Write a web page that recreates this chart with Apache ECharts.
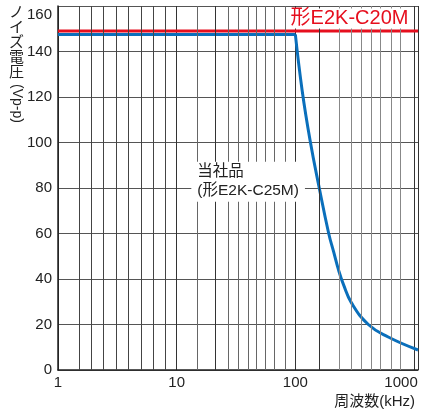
<!DOCTYPE html>
<html>
<head>
<meta charset="utf-8">
<script src="https://cdn.jsdelivr.net/npm/echarts@6/dist/echarts.min.js"></script>
<style>
  html, body { margin: 0; padding: 0; background: #fff; }
  #chart { width: 421px; height: 412px; }
</style>
</head>
<body>
<div id="chart"></div>
<script>
// 周波数(kHz) の目盛
var freqTicks = [1, 10, 100, 1000];
// 補助目盛線 (図から読んだ位置)
var minorFreqs1 = [1.5, 1.9, 2.4, 3.1, 3.9, 5, 6.3, 8];
var minorFreqs10 = [15, 21, 27, 33, 40, 47, 56, 67, 82];
var minorFreqs100 = [160, 235, 295, 360, 435, 520, 640, 770];
// 当社品 (形E2K-C25M)
var c25mFreq = [1, 100, 114, 133, 159, 191, 210, 231, 255, 297, 412, 606, 1080];
var c25mVolt = [147.5, 147.5, 123, 101, 80, 60, 52, 44, 37.4, 29.5, 20, 14.5, 8.8];
// 形E2K-C20M
var c20mFreq = [1, 1080];
var c20mVolt = [149, 149];

var FONT = "'Liberation Sans', 'Noto Sans CJK JP', sans-serif";

function pairs(xs, ys) {
  var out = [];
  xs.forEach(function (x, i) { out.push([x, ys[i]]); });
  return out;
}

function vLines(list, color, darkOnes) {
  return list.map(function (f) {
    var dark = darkOnes && darkOnes.indexOf(f) >= 0;
    return { xAxis: f, lineStyle: { color: dark ? '#333' : color, width: 1, type: 'solid' } };
  });
}

var c25m = pairs(c25mFreq, c25mVolt);
var c20m = pairs(c20mFreq, c20mVolt);

var chart = echarts.init(document.getElementById('chart'), null, { renderer: 'canvas' });

var option = {
  animation: false,
  backgroundColor: '#fff',
  textStyle: { fontFamily: FONT },
  grid: { left: 58, right: 1, top: 6, bottom: 42 },
  xAxis: {
    type: 'log',
    logBase: 10,
    min: 1,
    max: 1080,
    axisLine: { show: true, lineStyle: { color: '#222', width: 1.5 } },
    axisTick: { show: false },
    axisLabel: {
      color: '#222',
      fontSize: 15,
      fontFamily: FONT,
      margin: 5,
      formatter: function (v) {
        var r = Math.round(v);
        if (freqTicks.indexOf(r) < 0) return '';
        return r === 1000 ? '{e|1000}' : String(r);
      },
      rich: { e: { fontSize: 15, color: '#222', fontFamily: FONT, padding: [0, 26, 0, 0] } }
    },
    splitLine: { show: true, lineStyle: { color: '#333', width: 1 } },
    name: '周波数(kHz)',
    nameLocation: 'end',
    nameGap: -3,
    nameTextStyle: {
      color: '#222', fontSize: 15, fontFamily: FONT,
      align: 'right', verticalAlign: 'top', padding: [24, 0, 0, 0]
    }
  },
  yAxis: {
    type: 'value',
    min: 0,
    max: 160,
    interval: 20,
    axisLine: { show: true, lineStyle: { color: '#222', width: 1.5 } },
    axisTick: { show: false },
    axisLabel: {
      color: '#222',
      fontSize: 15,
      fontFamily: FONT,
      margin: 6,
      formatter: function (v) { return v === 160 ? '{t|160}' : String(v); },
      rich: { t: { fontSize: 15, color: '#222', fontFamily: FONT, padding: [18, 0, 0, 0] } }
    },
    splitLine: { show: true, lineStyle: { color: '#555', width: 1 } }
  },
  graphic: [
    {
      type: 'text', left: 9, top: 5,
      style: { text: 'ノ\nイ\nズ\n電\n圧', font: '15px ' + FONT, fill: '#222', lineHeight: 15 }
    },
    {
      type: 'text', x: 17, y: 84, rotation: -Math.PI / 2,
      style: { text: '(Vp-p)', font: '14px ' + FONT, fill: '#222', align: 'left', verticalAlign: 'middle' }
    }
  ],
  series: [
    {
      // 補助目盛線
      name: 'minor',
      type: 'line',
      data: [],
      z: 1,
      silent: true,
      markLine: {
        silent: true,
        symbol: ['none', 'none'],
        label: { show: false },
        lineStyle: { color: '#666', width: 1, type: 'solid' },
        data: vLines(minorFreqs1, '#444')
          .concat(vLines(minorFreqs10, '#666', [21]))
          .concat(vLines(minorFreqs100, '#888', [160]))
      }
    },
    {
      name: '形E2K-C20M',
      type: 'line',
      data: c20m,
      z: 3,
      symbol: 'none',
      lineStyle: { color: '#e60f1e', width: 3 },
      markPoint: {
        symbol: 'rect',
        symbolSize: 1,
        itemStyle: { color: 'rgba(0,0,0,0)' },
        label: {
          show: true, position: 'inside', formatter: '形E2K-C20M',
          color: '#e60f1e', fontSize: 20, fontFamily: FONT,
          backgroundColor: '#fff', padding: [0, 3]
        },
        data: [{ coord: [286, 154.5] }]
      }
    },
    {
      name: '当社品',
      type: 'line',
      data: c25m.slice(0, 2),
      z: 4,
      symbol: 'none',
      lineStyle: { color: '#0a6fbb', width: 3 }
    },
    {
      name: '当社品 drop',
      type: 'line',
      data: c25m.slice(1),
      z: 4,
      symbol: 'none',
      smooth: 0.45,
      lineStyle: { color: '#0a6fbb', width: 3 },
      markPoint: {
        symbol: 'rect',
        symbolSize: 1,
        itemStyle: { color: 'rgba(0,0,0,0)' },
        label: {
          show: true, position: 'inside',
          formatter: '{a|当社品}\n{a|(形E2K-C25M)}',
          backgroundColor: '#fff', padding: [1, 6],
          rich: { a: { align: 'left', color: '#222', fontSize: 15.5, lineHeight: 19, fontFamily: FONT } }
        },
        data: [{ coord: [40, 82.8] }]
      }
    }
  ]
};

chart.setOption(option);
</script>
</body>
</html>
